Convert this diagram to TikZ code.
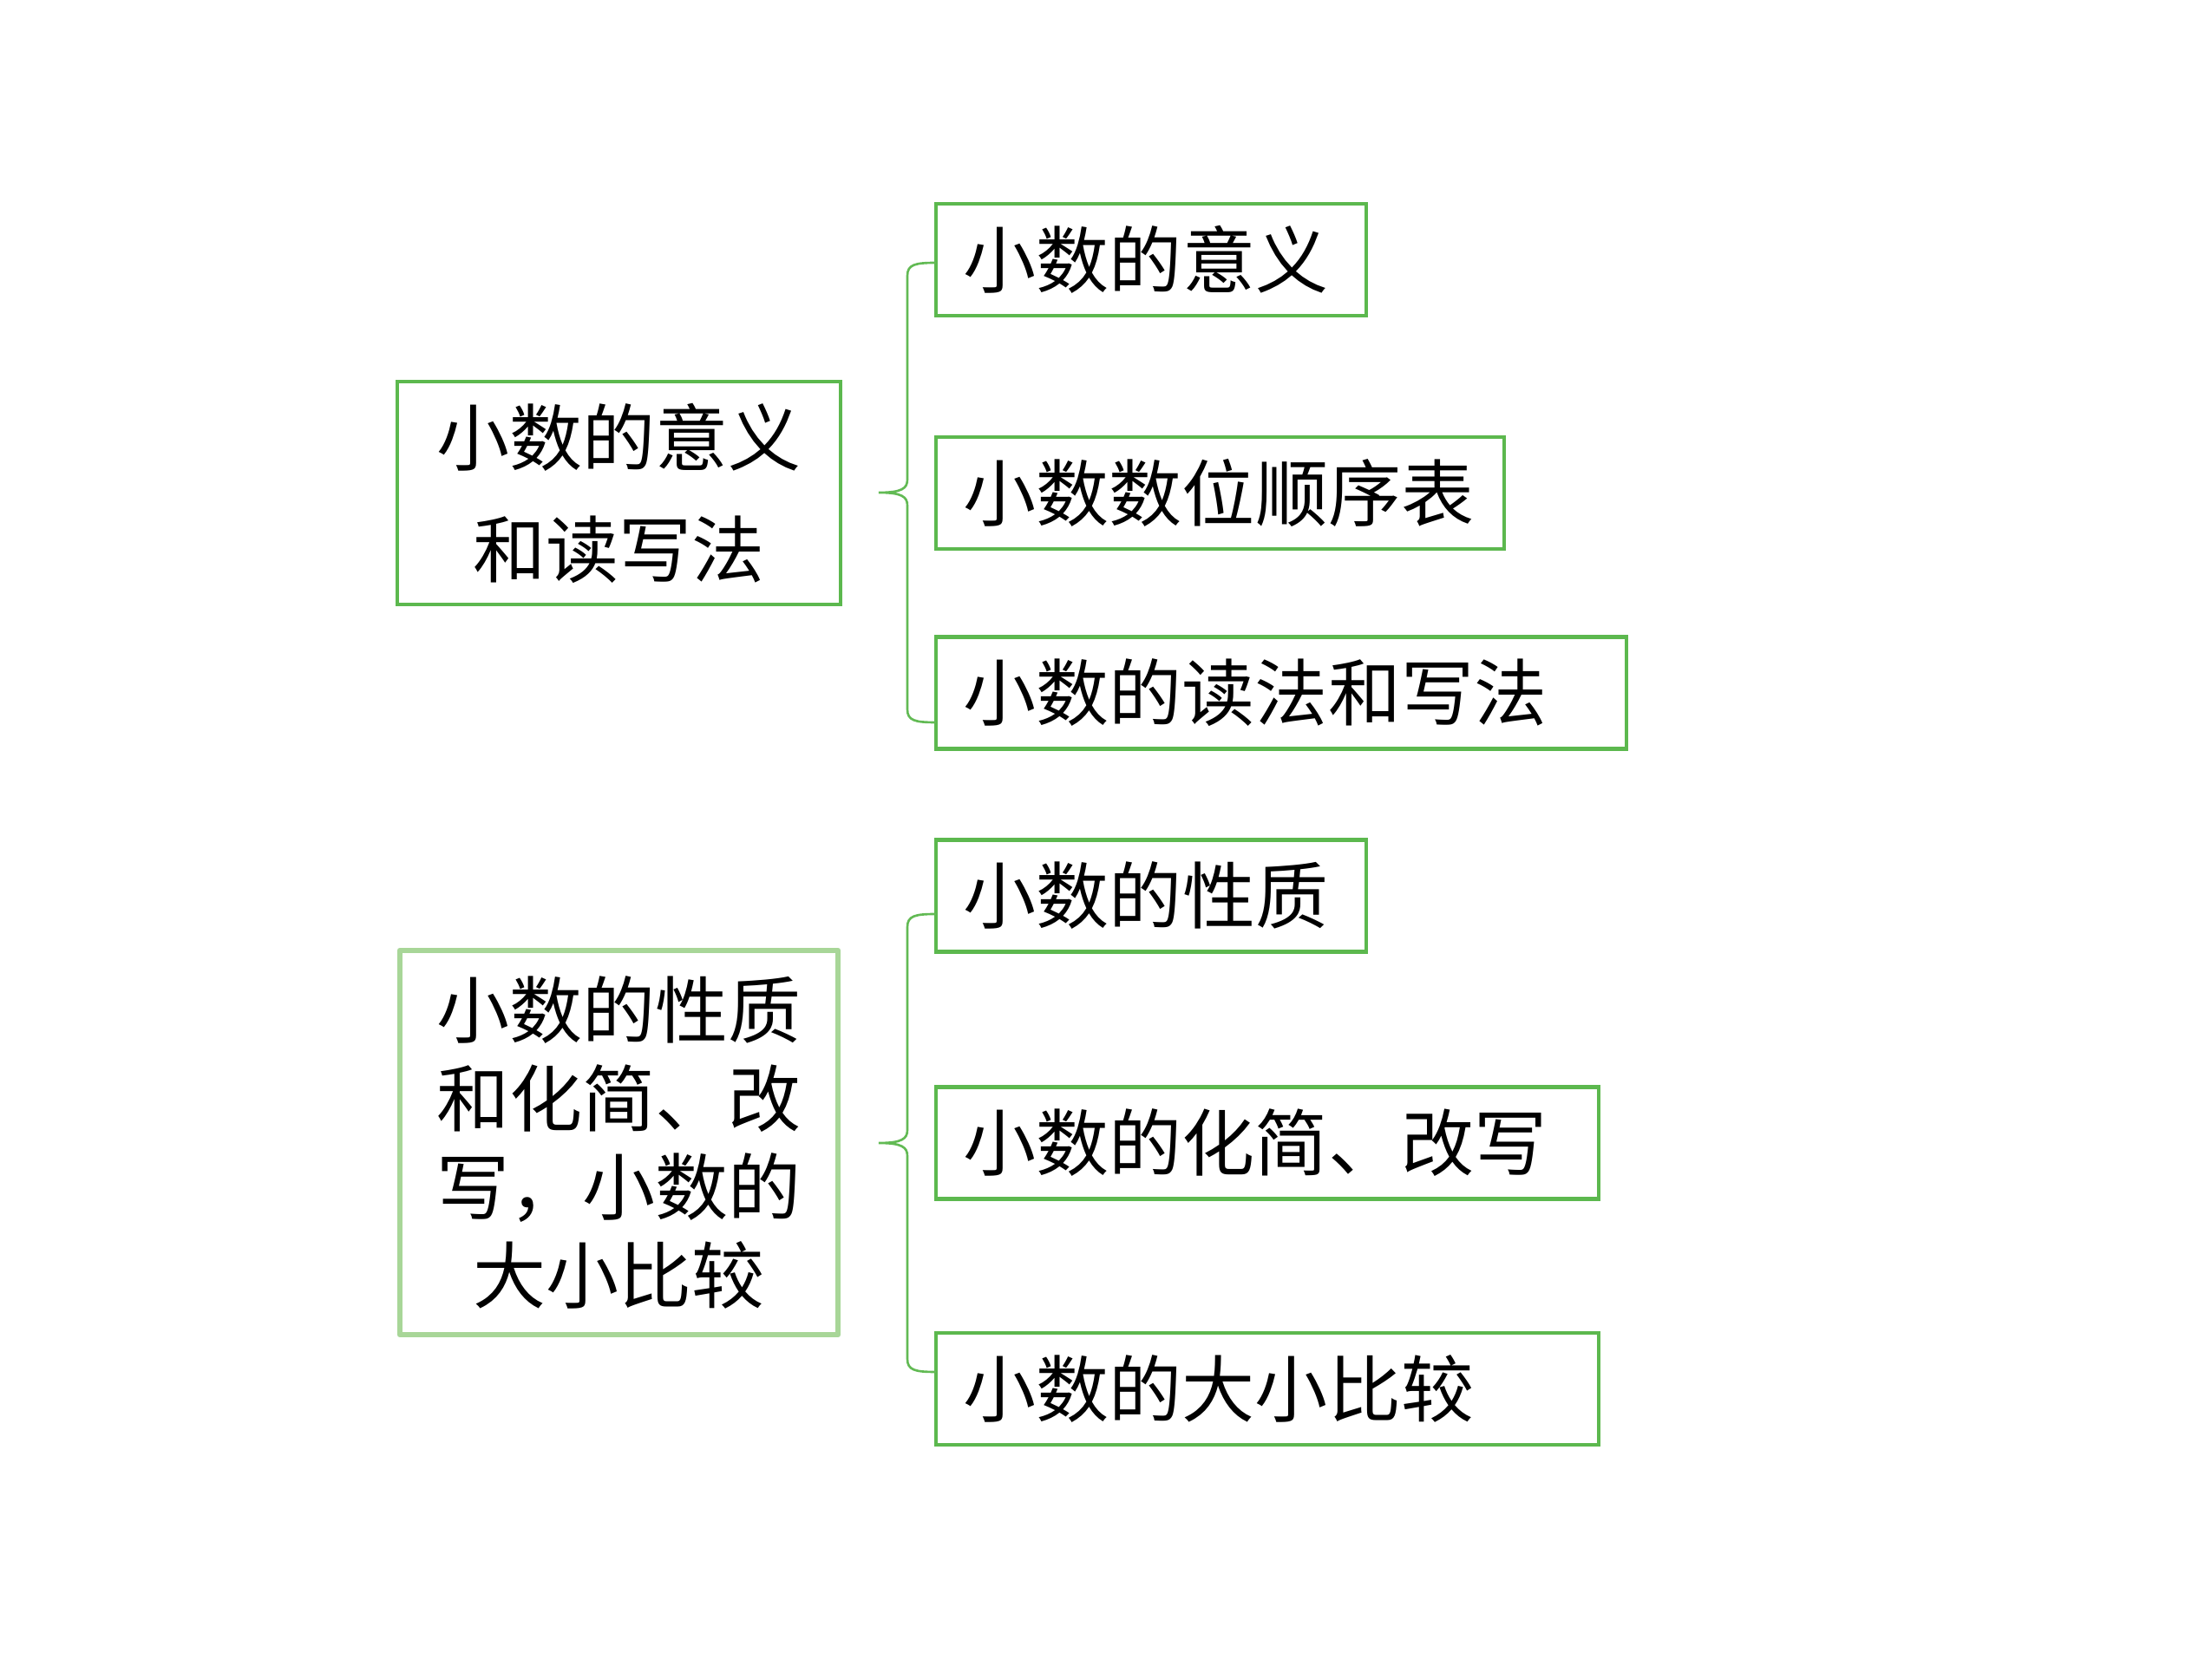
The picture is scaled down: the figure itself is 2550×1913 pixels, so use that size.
\documentclass[tikz,border=0pt]{standalone}
\usepackage{fontspec}
\setmainfont{Noto Sans CJK SC}
\definecolor{boxgreen}{RGB}{92,184,78}
\definecolor{lightgreen}{RGB}{168,214,152}
\definecolor{bracegreen}{RGB}{98,186,84}
\begin{document}
\begin{tikzpicture}[x=0.01cm,y=-0.01cm,
  txt/.style={font=\fontsize{23.9pt}{30pt}\selectfont},
  rbox/.style={draw=boxgreen,line width=1.2pt,rectangle,inner sep=0pt,inner xsep=0.32cm,
     minimum height=1.29cm,align=left,txt},
  lbox/.style={draw=boxgreen,line width=1.2pt,rectangle,inner sep=0pt,align=center},
  lbox2/.style={draw=lightgreen,line width=1.9pt,line join=round,rectangle,inner sep=0pt,align=center},
  bracestyle/.style={draw=bracegreen,line width=0.75pt}]
\useasboundingbox (0,0) rectangle (2550,1913);

% left boxes
\node[lbox,minimum width=5.11cm,minimum height=2.57cm,
  font=\fontsize{23.9pt}{36.7pt}\selectfont] (A1) at (713.5,568.5) {小数的意义\\和读写法};
\node[lbox2,minimum width=5.05cm,minimum height=4.43cm,
  font=\fontsize{23.9pt}{29pt}\selectfont] (A2) at (713.5,1317.5) {小数的性质\\和化简、改\\写，小数的\\大小比较};

% right boxes
\node[rbox,minimum width=4.96cm,text width=4.32cm] (B1) at (1327,299.5) {小数的意义};
\node[rbox,minimum width=6.55cm,text width=5.91cm] (B2) at (1406.5,568.5) {小数数位顺序表};
\node[rbox,minimum width=7.96cm,text width=7.32cm] (B3) at (1477,799) {小数的读法和写法};
\node[rbox,minimum width=4.96cm,text width=4.32cm] (C1) at (1327,1033) {小数的性质};
\node[rbox,minimum width=7.64cm,text width=7.00cm] (C2) at (1461,1318) {小数的化简、改写};
\node[rbox,minimum width=7.64cm,text width=7.00cm] (C3) at (1461,1601.5) {小数的大小比较};

% braces
\coordinate (t1) at (1079,303);
\coordinate (b1) at (1079,833);
\coordinate (p1) at (1013,568);
\coordinate (t2) at (1079,1054);
\coordinate (b2) at (1079,1582);
\coordinate (p2) at (1013,1318);

\draw[bracestyle] (t1) .. controls ++(-24,0) and ++(0,-13) .. ++(-33,15)
  -- ++(0,235) .. controls ++(0,10) and ++(27,0) .. (p1)
  .. controls ++(27,0) and ++(0,-10) .. ++(33,15)
  -- ++(0,235) .. controls ++(0,13) and ++(-24,0) .. (b1);
\draw[bracestyle] (t2) .. controls ++(-24,0) and ++(0,-13) .. ++(-33,15)
  -- ++(0,234) .. controls ++(0,10) and ++(27,0) .. (p2)
  .. controls ++(27,0) and ++(0,-10) .. ++(33,15)
  -- ++(0,234) .. controls ++(0,13) and ++(-24,0) .. (b2);
\end{tikzpicture}
\end{document}
